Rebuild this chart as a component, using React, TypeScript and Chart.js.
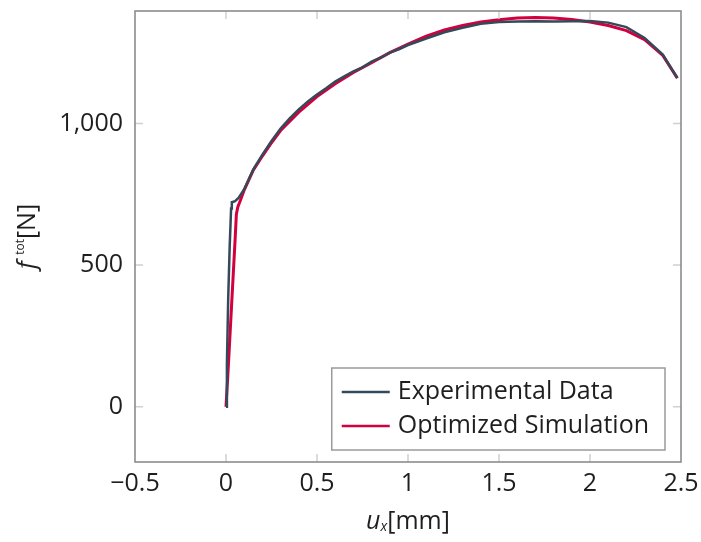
import React, { useEffect, useRef } from "react";
import { Chart, registerables } from "chart.js";

Chart.register(...registerables);

const EXP_X = [0, 0.005, 0.012, 0.02, 0.028, 0.032, 0.05, 0.07, 0.1, 0.15, 0.2, 0.25, 0.3, 0.35, 0.4, 0.45, 0.5, 0.55, 0.6, 0.65, 0.7, 0.75, 0.8, 0.85, 0.9, 0.95, 1.0, 1.1, 1.2, 1.3, 1.4, 1.5, 1.6, 1.7, 1.8, 1.9, 2.0, 2.1, 2.2, 2.3, 2.4, 2.48];
const EXP_Y = [0, 150, 380, 560, 700, 722, 726, 738, 768, 838, 890, 938, 982, 1018, 1050, 1078, 1102, 1124, 1148, 1166, 1184, 1198, 1218, 1232, 1250, 1262, 1277, 1300, 1322, 1338, 1352, 1358, 1360, 1361, 1360, 1361, 1362, 1356, 1340, 1302, 1243, 1160];

const SIM_X = [0, 0.01, 0.02, 0.03, 0.04, 0.05, 0.057, 0.065, 0.08, 0.1, 0.15, 0.2, 0.25, 0.3, 0.4, 0.5, 0.6, 0.7, 0.8, 0.9, 1.0, 1.1, 1.2, 1.3, 1.4, 1.5, 1.6, 1.7, 1.8, 1.9, 2.0, 2.1, 2.2, 2.3, 2.4, 2.48];
const SIM_Y = [0, 110, 230, 350, 470, 590, 680, 705, 730, 765, 835, 885, 932, 975, 1040, 1095, 1140, 1180, 1215, 1250, 1280, 1308, 1330, 1346, 1358, 1366, 1372, 1374, 1372, 1367, 1358, 1346, 1328, 1296, 1240, 1160];

const X_TICKS = [-0.5, 0, 0.5, 1, 1.5, 2, 2.5];
const Y_TICKS = [0, 500, 1000];

const SERIES_LABELS = ["Experimental Data", "Optimized Simulation"];
const SERIES_COLORS = ["#34495a", "#d2003f"];

const FONT = "'Open Sans', Lato, sans-serif";
const TEXT_COLOR = "#1e1e1e";
const FS = 25;

function drawRich(ctx: CanvasRenderingContext2D, parts: { t: string; f: string; dy: number }[], cx: number, cy: number) {
  let total = 0;
  const widths = parts.map((p) => {
    ctx.font = p.f;
    const w = ctx.measureText(p.t).width;
    total += w;
    return w;
  });
  let x = cx - total / 2;
  ctx.textBaseline = "middle";
  ctx.textAlign = "left";
  parts.forEach((p, i) => {
    ctx.font = p.f;
    ctx.fillText(p.t, x, cy + p.dy);
    x += widths[i];
  });
}

const framePlugin = {
  id: "framePlugin",
  afterDatasetsDraw(chart: any) {
    const ctx: CanvasRenderingContext2D = chart.ctx;
    const { left, right, top, bottom } = chart.chartArea;
    const xs = chart.scales.x;
    const ys = chart.scales.y;
    ctx.save();
    ctx.strokeStyle = "#d0d0d0";
    ctx.lineWidth = 1.5;
    const tl = 8;
    X_TICKS.forEach((v) => {
      const px = xs.getPixelForValue(v);
      if (px <= left + 1 || px >= right - 1) return;
      ctx.beginPath();
      ctx.moveTo(px, bottom);
      ctx.lineTo(px, bottom - tl);
      ctx.moveTo(px, top);
      ctx.lineTo(px, top + tl);
      ctx.stroke();
    });
    Y_TICKS.forEach((v) => {
      const py = ys.getPixelForValue(v);
      ctx.beginPath();
      ctx.moveTo(left, py);
      ctx.lineTo(left + tl, py);
      ctx.moveTo(right, py);
      ctx.lineTo(right - tl, py);
      ctx.stroke();
    });
    ctx.strokeStyle = "#8c8c8c";
    ctx.lineWidth = 1.6;
    ctx.strokeRect(left, top, right - left, bottom - top);

    // legend
    const ds = chart.data.datasets;
    ctx.font = `${FS}px ${FONT}`;
    let maxW = 0;
    ds.forEach((d: any) => {
      maxW = Math.max(maxW, ctx.measureText(d.label).width);
    });
    const bw = 10 + 48 + 8 + maxW + 16;
    const bh = 82;
    const bx = right - 16 - bw;
    const by = bottom - 12 - bh;
    ctx.fillStyle = "#fff";
    ctx.fillRect(bx, by, bw, bh);
    ctx.strokeStyle = "#9a9a9a";
    ctx.lineWidth = 1.5;
    ctx.strokeRect(bx, by, bw, bh);
    ds.forEach((d: any, i: number) => {
      const ry = by + 24 + i * 34;
      ctx.strokeStyle = d.borderColor;
      ctx.lineWidth = 2.5;
      ctx.beginPath();
      ctx.moveTo(bx + 10, ry);
      ctx.lineTo(bx + 58, ry);
      ctx.stroke();
      ctx.fillStyle = TEXT_COLOR;
      ctx.textAlign = "left";
      ctx.textBaseline = "middle";
      ctx.fillText(d.label, bx + 66, ry);
    });

    // axis titles
    ctx.fillStyle = TEXT_COLOR;
    const cxm = (left + right) / 2;
    drawRich(
      ctx,
      [
        { t: "u", f: `italic ${FS}px ${FONT}`, dy: 0 },
        { t: "x", f: `italic 14px ${FONT}`, dy: 5 },
        { t: "[mm]", f: `${FS}px ${FONT}`, dy: 0 },
      ],
      cxm,
      522
    );
    ctx.save();
    ctx.translate(28, (top + bottom) / 2);
    ctx.rotate(-Math.PI / 2);
    drawRich(
      ctx,
      [
        { t: "f ", f: `italic ${FS}px ${FONT}`, dy: 0 },
        { t: "tot", f: `12px ${FONT}`, dy: -7 },
        { t: "[N]", f: `${FS}px ${FONT}`, dy: 0 },
      ],
      0,
      0
    );
    ctx.restore();
    ctx.restore();
  },
};

const zeroPad = (s: any) => {
  s.paddingTop = 0;
  s.paddingBottom = 0;
  s.paddingLeft = 0;
  s.paddingRight = 0;
};

export default function App() {
  const ref = useRef<HTMLCanvasElement | null>(null);
  useEffect(() => {
    document.body.style.margin = "0";
    if (!ref.current) return;
    const chart = new Chart(ref.current, {
      type: "scatter",
      data: {
        datasets: [
          {
            label: SERIES_LABELS[0],
            data: EXP_X.map((x, i) => ({ x, y: EXP_Y[i] })),
            borderColor: SERIES_COLORS[0],
            backgroundColor: SERIES_COLORS[0],
            borderWidth: 2.5,
            showLine: true,
            pointRadius: 0,
            tension: 0,
          },
          {
            label: SERIES_LABELS[1],
            data: SIM_X.map((x, i) => ({ x, y: SIM_Y[i] })),
            borderColor: SERIES_COLORS[1],
            backgroundColor: SERIES_COLORS[1],
            borderWidth: 3,
            showLine: true,
            pointRadius: 0,
            tension: 0,
          },
        ],
      },
      options: {
        responsive: false,
        animation: false,
        layout: { padding: { top: 11, right: 20, left: 0, bottom: 0 } },
        plugins: { legend: { display: false }, tooltip: { enabled: false } },
        scales: {
          x: {
            type: "linear",
            min: -0.5,
            max: 2.5,
            afterBuildTicks: (s: any) => {
              s.ticks = X_TICKS.map((v) => ({ value: v }));
            },
            afterFit: (s: any) => {
              s.height = 80;
              zeroPad(s);
            },
            grid: { display: false, drawTicks: false },
            border: { display: false },
            ticks: {
              padding: 7,
              color: TEXT_COLOR,
              font: { family: FONT, size: FS },
              maxRotation: 0,
              autoSkip: false,
              callback: (v: any) => (Number(v) < 0 ? "\u2212" + String(-Number(v)) : String(v)),
            },
          },
          y: {
            type: "linear",
            min: -195,
            max: 1397,
            afterBuildTicks: (s: any) => {
              s.ticks = Y_TICKS.map((v) => ({ value: v }));
            },
            afterFit: (s: any) => {
              s.width = 135;
              zeroPad(s);
            },
            grid: { display: false, drawTicks: false },
            border: { display: false },
            ticks: {
              padding: 12,
              color: TEXT_COLOR,
              font: { family: FONT, size: FS },
              autoSkip: false,
              callback: (v: any) => Number(v).toLocaleString("en-US"),
            },
          },
        },
      },
      plugins: [framePlugin],
    });
    return () => chart.destroy();
  }, []);
  return (
    <div style={{ position: "absolute", left: 0, top: 0, width: 701, height: 542 }}>
      <canvas ref={ref} width={701} height={542} />
    </div>
  );
}
